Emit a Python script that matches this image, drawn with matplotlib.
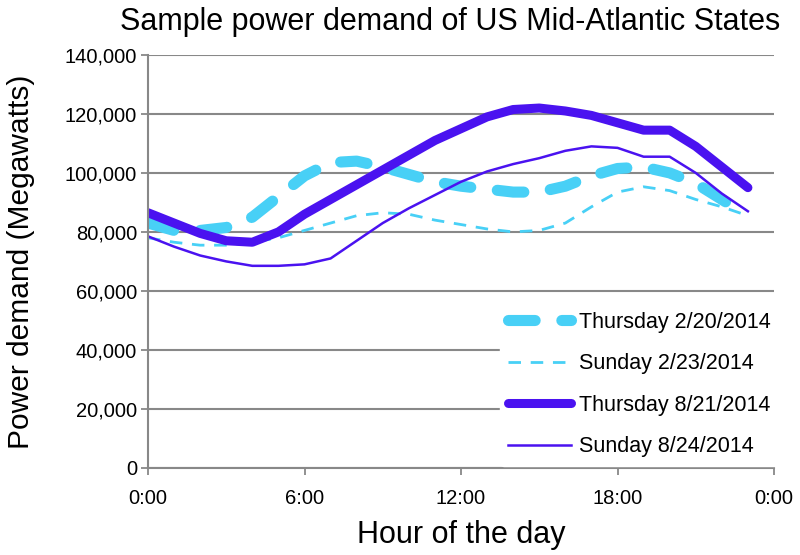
import numpy as np
import matplotlib
matplotlib.use("Agg")
import matplotlib.pyplot as plt

plt.rcParams['font.family'] = ['Liberation Sans', 'DejaVu Sans']

# hourly demand readings (MW)
hours = np.arange(24)
thu_feb = [83000, 80500, 80500, 81500, 85000, 92000, 99000, 103500, 104000, 102000, 99500, 97000,
           95500, 94500, 93500, 93500, 95500, 99000, 101500, 102000, 100000, 96500, 91000, 85500]
sun_feb = [78000, 76500, 75500, 75500, 76500, 78000, 80500, 83000, 85500, 86500, 86000, 84000,
           82500, 81000, 80000, 80500, 83000, 88500, 93500, 95300, 94000, 91000, 88500, 85500]
thu_aug = [86500, 83000, 79500, 77000, 76500, 80000, 86000, 91000, 96000, 101000, 106000, 111000,
           115000, 119000, 121500, 122000, 121000, 119500, 117000, 114500, 114500, 109000, 102000, 95000]
sun_aug = [78500, 75000, 72000, 70000, 68500, 68500, 69000, 71000, 77000, 83000, 88000, 92500,
           97000, 100500, 103000, 105000, 107500, 109000, 108500, 105500, 105500, 100000, 93000, 87000]

labels = ["Thursday 2/20/2014", "Sunday 2/23/2014", "Thursday 8/21/2014", "Sunday 8/24/2014"]
xticks = [0, 6, 12, 18, 24]
xticklabels = ["0:00", "6:00", "12:00", "18:00", "0:00"]

light = "#48D0F6"
purple = "#4A12F0"

fig = plt.figure(figsize=(8, 5.55), dpi=100)
ax = fig.add_axes([0.185, 0.157, 0.7825, 0.744])

ax.plot(hours, thu_feb, color=light, lw=8, dashes=(2.4, 2.4), dash_capstyle='round',
        solid_joinstyle='round', label=labels[0])
ax.plot(hours, sun_feb, color=light, lw=2, dashes=(4.5, 3.5), label=labels[1])
ax.plot(hours, thu_aug, color=purple, lw=6.5, solid_capstyle='round', solid_joinstyle='round',
        label=labels[2])
ax.plot(hours, sun_aug, color=purple, lw=1.8, solid_joinstyle='round', label=labels[3])

ax.set_xlim(0, 24)
ax.set_ylim(0, 140000)
ax.set_xticks(xticks)
ax.set_xticklabels(xticklabels)
ax.set_yticks(np.arange(0, 140001, 20000))
ax.yaxis.set_major_formatter(matplotlib.ticker.FuncFormatter(lambda v, p: f"{int(v):,}"))
ax.tick_params(axis='both', labelsize=14.5, color='#888888', length=5, width=1.3)
ax.tick_params(axis='y', pad=3)
ax.tick_params(axis='x', pad=10)

ax.grid(axis='y', color='#888888', lw=1.5)
ax.set_axisbelow(True)
for s in ['top', 'right']:
    ax.spines[s].set_visible(False)
for s in ['left', 'bottom']:
    ax.spines[s].set_color('#888888')
    ax.spines[s].set_linewidth(1.5)

ax.set_title("Sample power demand of US Mid-Atlantic States", fontsize=22, pad=18, x=0.483)
ax.set_xlabel("Hour of the day", fontsize=22, labelpad=9)
ax.set_ylabel("Power demand (Megawatts)", fontsize=21.5, labelpad=21)

leg = ax.legend(loc='lower left', bbox_to_anchor=(0.562, 0.005), fontsize=15.5,
                handlelength=2.9, labelspacing=0.95, handletextpad=0.4,
                frameon=True, facecolor='white', edgecolor='white', framealpha=1,
                borderaxespad=0)

fig.savefig("out.png", dpi=100)
